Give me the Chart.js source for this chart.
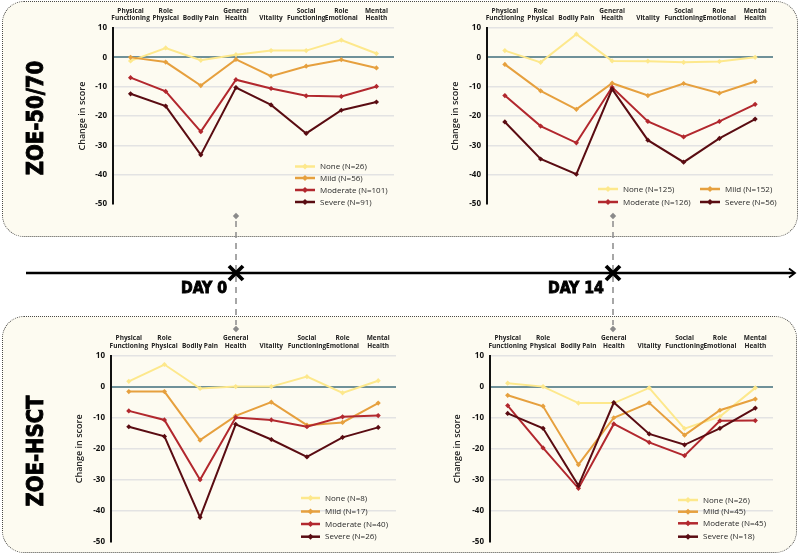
<!DOCTYPE html>
<html><head><meta charset="utf-8">
<script src="https://cdn.jsdelivr.net/npm/chart.js@4.4.1/dist/chart.umd.min.js"></script>
<style>
html,body{margin:0;padding:0;background:#fff;}
body{width:800px;height:554px;overflow:hidden;position:relative;font-family:"Open Sans",sans-serif;}
.box{position:absolute;box-sizing:border-box;background:#fdfbf1;border:1.5px dotted #4a4a4a;border-radius:22px;}
canvas{position:absolute;}
.big{position:absolute;font-family:"DejaVu Sans Condensed","DejaVu Sans",sans-serif;font-stretch:condensed;font-weight:bold;color:#000;white-space:nowrap;line-height:1;-webkit-text-stroke:0.9px #000;}
.rot{transform:translate(-50%,-50%) rotate(-90deg) scaleX(0.93);font-size:23.5px;}
.day{font-size:16.5px;transform-origin:left top;transform:scaleX(0.95);}
</style>
</head><body>
<div class="box" style="left:2px;top:1px;width:796px;height:236px;"></div>
<div class="box" style="left:2px;top:316px;width:795px;height:237px;"></div>
<canvas id="deco" width="800" height="554" style="left:0;top:0;"></canvas>
<canvas id="c1" width="400" height="215" style="left:0;top:0;"></canvas>
<canvas id="c2" width="400" height="215" style="left:400px;top:0;"></canvas>
<canvas id="c3" width="400" height="228" style="left:0;top:325px;"></canvas>
<canvas id="c4" width="400" height="228" style="left:400px;top:325px;"></canvas>
<div class="big rot" style="left:36px;top:118px;">ZOE-50/70</div>
<div class="big rot" style="left:36px;top:451px;">ZOE-HSCT</div>
<div class="big day" style="left:181px;top:280px;">DAY 0</div>
<div class="big day" style="left:548px;top:280px;">DAY 14</div>
<script>
// ---------- data ----------
const categories = [["Physical","Functioning"],["Role","Physical"],["Bodily Pain"],["General","Health"],["Vitality"],["Social","Functioning"],["Role","Emotional"],["Mental","Health"]];
const severityNames = ["None","Mild","Moderate","Severe"];
const yTicks = [10,0,-10,-20,-30,-40,-50];

// ZOE-50/70, Day 0
const z5070Day0None     = [-1.2, 3.2, -1.0, 0.9, 2.3, 2.3, 5.9, 1.3];
const z5070Day0Mild     = [0, -1.6, -9.6, -0.7, -6.4, -3.0, -0.8, -3.6];
const z5070Day0Moderate = [-6.9, -11.6, -25.3, -7.6, -10.6, -13.1, -13.3, -9.9];
const z5070Day0Severe   = [-12.4, -16.6, -33.2, -10.3, -16.2, -25.9, -18.0, -15.2];
const z5070Day0N        = [26, 56, 101, 91];

// ZOE-50/70, Day 14
const z5070Day14None     = [2.3, -1.7, 7.9, -1.2, -1.3, -1.7, -1.4, 0];
const z5070Day14Mild     = [-2.4, -11.4, -17.7, -8.8, -13.0, -8.9, -12.2, -8.2];
const z5070Day14Moderate = [-13.0, -23.4, -29.1, -10.2, -21.8, -27.1, -21.8, -16.0];
const z5070Day14Severe   = [-22.0, -34.6, -39.8, -10.8, -28.2, -35.7, -27.6, -21.0];
const z5070Day14N        = [125, 152, 126, 56];

// ZOE-HSCT, Day 0
const hsctDay0None     = [1.7, 7.1, -0.6, 0, 0, 3.2, -2.0, 1.9];
const hsctDay0Mild     = [-1.6, -1.6, -17.2, -9.4, -5.0, -12.4, -11.5, -5.3];
const hsctDay0Moderate = [-7.8, -10.7, -29.9, -9.9, -10.7, -12.9, -9.7, -9.3];
const hsctDay0Severe   = [-12.9, -16.0, -42.0, -12.1, -17.0, -22.6, -16.3, -13.1];
const hsctDay0N        = [8, 17, 40, 26];

// ZOE-HSCT, Day 14
const hsctDay14None     = [1.1, 0, -5.3, -5.3, -0.4, -13.5, -9.6, -0.4];
const hsctDay14Mild     = [-2.8, -6.3, -25.1, -10.0, -5.2, -15.6, -7.6, -4.0];
const hsctDay14Moderate = [-6.1, -19.7, -32.7, -12.0, -17.9, -22.2, -11.0, -10.9];
const hsctDay14Severe   = [-8.6, -13.4, -31.8, -5.1, -15.2, -18.7, -13.4, -6.9];
const hsctDay14N        = [26, 45, 45, 18];

// ---------- styling ----------
const colors = ["#fde88c","#e6a03e","#b2282e","#5a0c12"];
const FONT = '"Open Sans", sans-serif';

function diamond(ctx, x, y, r){
  ctx.beginPath(); ctx.moveTo(x, y-r); ctx.lineTo(x+r, y); ctx.lineTo(x, y+r); ctx.lineTo(x-r, y); ctx.closePath(); ctx.fill();
}

const customLegend = {
  id: 'customLegend',
  afterDraw(chart, args, opts){
    const ctx = chart.ctx;
    ctx.save();
    chart.data.datasets.forEach((ds, i) => {
      const [x, y] = opts.items[i];
      ctx.strokeStyle = ds.borderColor; ctx.fillStyle = ds.borderColor; ctx.lineWidth = 2.5;
      ctx.beginPath(); ctx.moveTo(x, y); ctx.lineTo(x + opts.len, y); ctx.stroke();
      diamond(ctx, x + opts.len/2, y, 3);
      ctx.fillStyle = '#2a2a2a';
      ctx.font = '500 8px ' + FONT;
      ctx.textBaseline = 'middle'; ctx.textAlign = 'left';
      ctx.fillText(ds.label, x + opts.len + 5, y + 0.5);
    });
    ctx.restore();
  }
};

function makeChart(id, series, nArr, L){
  new Chart(document.getElementById(id), {
    type: 'line',
    data: {
      labels: categories,
      datasets: series.map((s, i) => ({
        label: severityNames[i] + ' (N=' + nArr[i] + ')',
        data: s,
        borderColor: colors[i],
        backgroundColor: colors[i],
        borderWidth: 2,
        pointStyle: 'rectRot',
        pointRadius: 2.6,
        pointBorderWidth: 0,
        tension: 0,
        order: 3 - i
      }))
    },
    options: {
      responsive: false,
      animation: false,
      events: [],
      layout: { padding: { left: 0, right: L.padR, top: 0, bottom: L.padB } },
      plugins: {
        legend: { display: false },
        tooltip: { enabled: false },
        customLegend: { items: L.legend, len: L.len }
      },
      scales: {
        x: {
          position: 'top',
          offset: true,
          grid: { display: false, drawTicks: false },
          border: { display: false },
          ticks: { autoSkip: false, maxRotation: 0, minRotation: 0, padding: 5.5, color: '#222',
                   font: { family: FONT, weight: 'bold', size: 6.5, lineHeight: 1.2 } },
          afterFit(s){ s.height = L.top; }
        },
        y: {
          min: -50, max: 10,
          afterBuildTicks(s){ s.ticks = yTicks.map(v => ({ value: v })); },
          ticks: { padding: 6, color: '#111', font: { family: FONT, weight: 'bold', size: 8 } },
          grid: {
            drawTicks: false,
            color: c => c.tick.value === 0 ? '#6f9199' : (c.tick.value === -50 ? 'rgba(0,0,0,0)' : '#e3e3e3'),
            lineWidth: c => c.tick.value === 0 ? 2 : 1.5
          },
          border: { display: true, color: '#111', width: 2 },
          title: { display: true, text: 'Change in score', color: '#222',
                   font: { family: FONT, weight: '600', size: 9 }, padding: { top: L.titlePad, bottom: 0 } },
          afterFit(s){ s.width = L.left; }
        }
      }
    },
    plugins: [customLegend]
  });
}

makeChart('c1', [z5070Day0None, z5070Day0Mild, z5070Day0Moderate, z5070Day0Severe], z5070Day0N,
  { left: 113, top: 28, padR: 6, padB: 7, titlePad: 76.6, len: 20,
    legend: [[295,166.5],[295,178],[295,190],[295,202]] });
makeChart('c2', [z5070Day14None, z5070Day14Mild, z5070Day14Moderate, z5070Day14Severe], z5070Day14N,
  { left: 87, top: 28, padR: 27, padB: 7, titlePad: 49.6, len: 20,
    legend: [[198,189],[300,189],[198,202],[300,202]] });
makeChart('c3', [hsctDay0None, hsctDay0Mild, hsctDay0Moderate, hsctDay0Severe], hsctDay0N,
  { left: 111, top: 30.5, padR: 3, padB: 9.7, titlePad: 73.6, len: 19,
    legend: [[301,173],[301,186.5],[301,199],[301,211.7]] });
makeChart('c4', [hsctDay14None, hsctDay14Mild, hsctDay14Moderate, hsctDay14Severe], hsctDay14N,
  { left: 90, top: 30.5, padR: 27, padB: 9.7, titlePad: 51.6, len: 20,
    legend: [[278,175],[278,186.7],[278,198.3],[278,211.7]] });

// ---------- decorations: timeline ----------
(function(){
  const ctx = document.getElementById('deco').getContext('2d');
  // dashed connectors
  ctx.strokeStyle = '#8a8a8a'; ctx.fillStyle = '#8a8a8a'; ctx.lineWidth = 1.5;
  ctx.setLineDash([6,5]);
  [236, 613].forEach(x => {
    ctx.beginPath(); ctx.moveTo(x, 221); ctx.lineTo(x, 325); ctx.stroke();
  });
  ctx.setLineDash([]);
  [236, 613].forEach(x => { diamond(ctx, x, 216, 3.2); diamond(ctx, x, 329, 3.2); });
  // timeline
  ctx.strokeStyle = '#000'; ctx.lineWidth = 2.5;
  ctx.beginPath(); ctx.moveTo(26, 273); ctx.lineTo(794, 273); ctx.stroke();
  ctx.lineWidth = 1.8;
  ctx.beginPath(); ctx.moveTo(789, 268.5); ctx.lineTo(795, 273); ctx.lineTo(789, 277.5); ctx.stroke();
  // X marks
  ctx.lineWidth = 3.8; ctx.lineCap = 'butt';
  [236, 613].forEach(x => {
    ctx.beginPath(); ctx.moveTo(x-7, 266); ctx.lineTo(x+7, 280); ctx.moveTo(x+7, 266); ctx.lineTo(x-7, 280); ctx.stroke();
  });
})();
</script>
</body></html>
